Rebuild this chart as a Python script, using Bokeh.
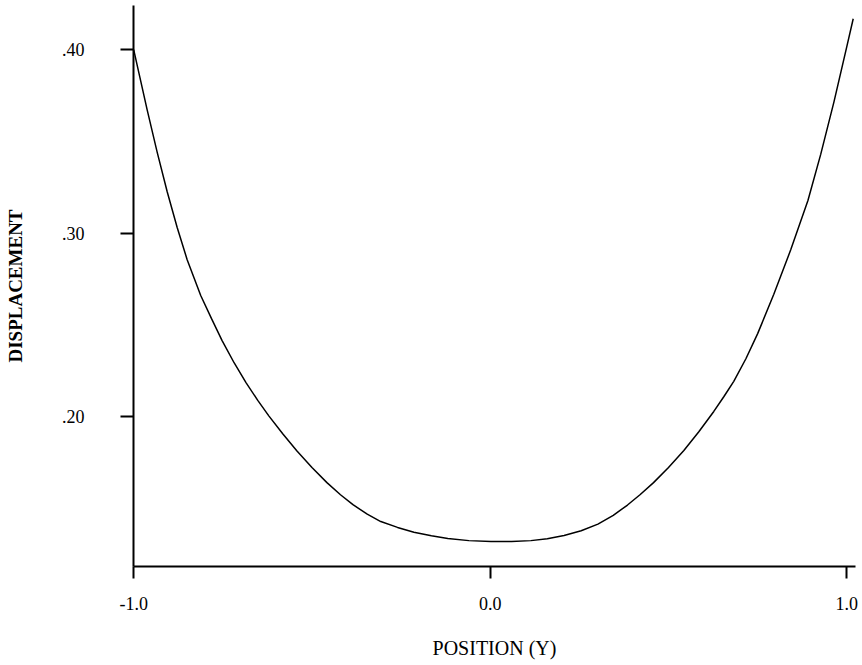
from bokeh.plotting import figure
from bokeh.models import FixedTicker, Range1d
from bokeh.embed import file_html
from bokeh.resources import INLINE

# Data
position = [-1.000, -0.981, -0.962, -0.934, -0.906, -0.878, -0.850, -0.812,
            -0.782, -0.752, -0.718, -0.685, -0.652, -0.621, -0.582, -0.542,
            -0.500, -0.458, -0.420, -0.385, -0.345, -0.307, -0.260, -0.214,
            -0.165, -0.119, -0.060, 0.002, 0.060, 0.114, 0.160, 0.207,
            0.255, 0.302, 0.345, 0.385, 0.420, 0.458, 0.500, 0.543,
            0.585, 0.627, 0.655, 0.683, 0.717, 0.750, 0.795, 0.843,
            0.891, 0.927, 0.964, 1.000, 1.018]
displacement = [0.4000, 0.3835, 0.3670, 0.3440, 0.3225, 0.3030, 0.2855, 0.2660,
                0.2535, 0.2414, 0.2292, 0.2185, 0.2088, 0.2004, 0.1906, 0.1812,
                0.1722, 0.1640, 0.1574, 0.1520, 0.1468, 0.1428, 0.1396, 0.1370,
                0.1350, 0.1336, 0.1324, 0.1319, 0.1319, 0.1324, 0.1334, 0.1352,
                0.1378, 0.1414, 0.1462, 0.1518, 0.1574, 0.1640, 0.1722, 0.1815,
                0.1917, 0.2028, 0.2108, 0.2192, 0.2315, 0.2452, 0.2665, 0.2910,
                0.3177, 0.3430, 0.3715, 0.4016, 0.4168]

x_ticks = [-1, 0, 1]
x_tick_labels = ["-1.0", "0.0", "1.0"]
y_ticks = [0.2, 0.3, 0.4]
y_tick_labels = [".20", ".30", ".40"]

x_title = "POSITION (Y)"
y_title = "DISPLACEMENT"

FONT = "Liberation Serif"

p = figure(width=862, height=665,
           x_range=Range1d(-1.0005, 1.0244), y_range=Range1d(0.1183, 0.4240),
           output_backend="svg", toolbar_location=None,
           min_border_left=133, min_border_right=7,
           min_border_top=5, min_border_bottom=99)
p.outline_line_color = None
p.grid.visible = False
p.background_fill_color = "white"
p.border_fill_color = "white"

p.line(position, displacement, line_color="black", line_width=1.5)

# axes
for ax in (p.xaxis, p.yaxis):
    ax.axis_line_color = "black"
    ax.axis_line_width = 2
    ax.major_tick_line_color = "black"
    ax.major_tick_line_width = 2
    ax.major_tick_in = 0
    ax.minor_tick_line_color = None
    ax.major_label_text_font = FONT
    ax.major_label_text_font_size = "18px"
    ax.major_label_text_color = "black"
    ax.axis_label_text_font = FONT
    ax.axis_label_text_color = "black"

p.xaxis.ticker = FixedTicker(ticks=x_ticks)
p.xaxis.major_label_overrides = dict(zip(x_ticks, x_tick_labels))
p.xaxis.major_tick_out = 12
p.xaxis.major_label_standoff = 18
p.xaxis.axis_label = x_title
p.xaxis.axis_label_text_font_size = "20px"
p.xaxis.axis_label_text_font_style = "normal"
p.xaxis.axis_label_standoff = 24

p.yaxis.ticker = FixedTicker(ticks=y_ticks)
p.yaxis.major_label_overrides = dict(zip(y_ticks, y_tick_labels))
p.yaxis.major_tick_out = 13
p.yaxis.major_label_standoff = 36
p.yaxis.axis_label = y_title
p.yaxis.axis_label_text_font_size = "19px"
p.yaxis.axis_label_text_font_style = "bold"
p.yaxis.axis_label_standoff = 33

open("out.html", "w").write(file_html(p, INLINE))
